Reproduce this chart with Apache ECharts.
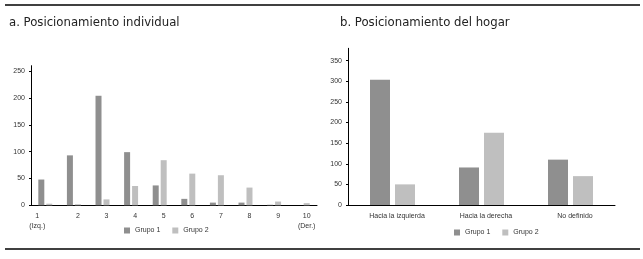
<!DOCTYPE html>
<html><head><meta charset="utf-8">
<script src="https://cdn.jsdelivr.net/npm/echarts@6/dist/echarts.min.js"></script>
<style>html,body{margin:0;padding:0;background:#fff}#c{width:643px;height:259px}</style>
</head><body><div id="c"></div>
<script>
const titleA = 'a. Posicionamiento individual';
const titleB = 'b. Posicionamiento del hogar';
const seriesNames = ['Grupo 1', 'Grupo 2'];
const catsA = ['1\n(Izq.)', '2', '3', '4', '5', '6', '7', '8', '9', '10\n(Der.)'];
const g1A = [48, 93, 204, 99, 37, 12, 5, 5, 1, 0];
const g2A = [3, 2, 11, 36, 84, 59, 56, 33, 7, 4];
const catsB = ['Hacia la izquierda', 'Hacia la derecha', 'No definido'];
const g1B = [304, 91, 110];
const g2B = [50, 175, 70];
const ticksA = [0, 50, 100, 150, 200, 250];
const ticksB = [0, 50, 100, 150, 200, 250, 300, 350];

const c1 = '#8f8f8f', c2 = '#bfbfbf';
const lab = {fontFamily: 'Liberation Sans, Arial, sans-serif', fontSize: 7, color: '#333'};
const titleFont = '"Liberation Sans Narrow", "DejaVu Sans Condensed", sans-serif';
const chart = echarts.init(document.getElementById('c'), null, {renderer: 'canvas'});

function yAxis(idx, max, ticks) {
  return {
    gridIndex: idx, type: 'value', min: 0, max: max, interval: 50,
    axisLine: {show: true, lineStyle: {color: '#000', width: 1}},
    axisTick: {show: true, length: 2, lineStyle: {color: '#000'}},
    splitLine: {show: false},
    axisLabel: Object.assign({}, lab, {margin: 6, showMaxLabel: false,
      formatter: v => ticks.indexOf(v) >= 0 ? String(v) : ''})
  };
}
function xAxis(idx, cats, pads) {
  return {
    gridIndex: idx, type: 'category',
    data: cats.map((c, i) => ({value: c, textStyle: {padding: pads(i)}})),
    axisLine: {show: true, lineStyle: {color: '#000', width: 1}},
    axisTick: {show: false},
    axisLabel: Object.assign({}, lab, {margin: 6, lineHeight: 10, interval: 0})
  };
}
chart.setOption({
  animation: false,
  title: [
    {text: titleA, left: 4, top: 11, textStyle: {fontFamily: titleFont, fontSize: 13, fontWeight: 'normal', color: '#222'}},
    {text: titleB, left: 335, top: 11, textStyle: {fontFamily: titleFont, fontSize: 13, fontWeight: 'normal', color: '#222'}}
  ],
  legend: [
    {data: seriesNames, left: 119, top: 222, itemWidth: 6, itemHeight: 6, itemGap: 12, icon: 'rect',
     textStyle: Object.assign({}, lab)},
    {data: seriesNames.map(n => n + ' '), left: 449, top: 224, itemWidth: 6, itemHeight: 6, itemGap: 12, icon: 'rect',
     textStyle: Object.assign({}, lab), formatter: n => n.trim()}
  ],
  grid: [
    {left: 31, right: 326, top: 65.7, bottom: 53.7},
    {left: 348, right: 28, top: 48.3, bottom: 54}
  ],
  xAxis: [
    xAxis(0, catsA, i => i === 0 ? [0, 16, 0, 0] : [0, 0, 0, 8]),
    xAxis(1, catsB, i => [0, 0, 0, 9])
  ],
  yAxis: [yAxis(0, 260, ticksA), yAxis(1, 380, ticksB)],
  series: [
    {name: seriesNames[0], type: 'bar', xAxisIndex: 0, yAxisIndex: 0, data: g1A, barWidth: 6, barGap: '33%', itemStyle: {color: c1}},
    {name: seriesNames[1], type: 'bar', xAxisIndex: 0, yAxisIndex: 0, data: g2A, barWidth: 6, barGap: '33%', itemStyle: {color: c2}},
    {name: seriesNames[0] + ' ', type: 'bar', xAxisIndex: 1, yAxisIndex: 1, data: g1B, barWidth: 20, barGap: '25%', itemStyle: {color: c1}},
    {name: seriesNames[1] + ' ', type: 'bar', xAxisIndex: 1, yAxisIndex: 1, data: g2B, barWidth: 20, barGap: '25%', itemStyle: {color: c2}}
  ],
  graphic: [
    {type: 'line', shape: {x1: 5, y1: 5, x2: 640, y2: 5}, style: {stroke: '#000', lineWidth: 1.5}},
    {type: 'line', shape: {x1: 5, y1: 249, x2: 640, y2: 249}, style: {stroke: '#000', lineWidth: 1.5}}
  ]
});
</script></body></html>
